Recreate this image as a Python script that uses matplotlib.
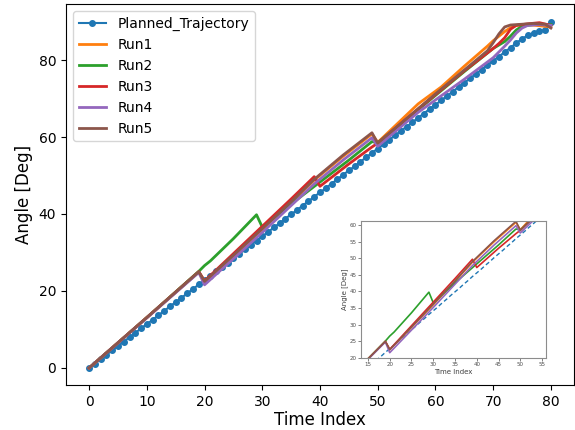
import matplotlib
matplotlib.use("Agg")
import matplotlib.pyplot as plt

# ---------------- data ----------------
planned_t = list(range(0, 81))
planned_v = [0.0, 1.1, 2.3, 3.4, 4.6, 5.7, 6.8, 8.0, 9.1, 10.3,
             11.4, 12.5, 13.7, 14.8, 16.0, 17.1, 18.2, 19.4, 20.5, 21.7,
             22.8, 23.9, 25.1, 26.2, 27.4, 28.5, 29.6, 30.8, 31.9, 33.1,
             34.2, 35.3, 36.5, 37.6, 38.8, 39.9, 41.0, 42.2, 43.3, 44.5,
             45.6, 46.7, 47.9, 49.0, 50.2, 51.3, 52.4, 53.6, 54.7, 55.9,
             57.0, 58.1, 59.3, 60.4, 61.6, 62.7, 63.8, 65.0, 66.1, 67.3,
             68.4, 69.5, 70.7, 71.8, 73.0, 74.1, 75.2, 76.4, 77.5, 78.7,
             79.8, 80.9, 82.1, 83.2, 84.4, 85.5, 86.4, 87.1, 87.5, 87.8,
             90.0]

run1_t = [0, 10, 19, 20, 25, 30, 35, 39, 44, 49, 50, 57, 61, 65, 69, 70, 71, 72, 73, 74, 76, 80]
run1_v = [0, 13.1, 25.0, 22.5, 29.2, 36.0, 43.0, 48.8, 55.0, 60.8, 58.6, 68.6, 73.0, 78.4, 83.6, 85.0, 86.2, 87.4, 88.4, 89.0, 89.2, 88.6]

run2_t = [0, 10, 19, 20, 21, 25, 29, 30, 35, 40, 45, 49, 50, 55, 60, 65, 70, 72, 73, 74, 75, 77, 80]
run2_v = [0, 13.1, 25.1, 26.6, 27.8, 33.6, 39.8, 36.6, 42.6, 48.3, 54.0, 58.8, 58.5, 64.6, 70.8, 77.0, 83.0, 84.8, 86.2, 87.8, 88.8, 89.2, 89.2]

run3_t = [0, 10, 19, 20, 25, 30, 35, 39, 40, 45, 49, 50, 55, 60, 65, 70, 71, 72, 73, 74, 76, 78, 80]
run3_v = [0, 13.1, 25.0, 22.6, 29.7, 36.8, 43.9, 49.7, 47.2, 53.0, 57.4, 58.4, 64.8, 71.0, 77.2, 83.0, 84.3, 85.8, 88.0, 89.0, 89.4, 89.7, 89.0]

run4_t = [0, 10, 19, 20, 25, 30, 35, 39, 44, 49, 50, 57, 65, 70, 72, 73, 74, 75, 76, 78, 80]
run4_v = [0, 13.0, 24.8, 21.6, 28.4, 35.2, 42.2, 47.8, 54.0, 59.8, 57.6, 66.4, 75.0, 80.6, 83.6, 85.2, 87.0, 88.3, 89.0, 89.2, 89.0]

run5_t = [0, 10, 19, 20, 25, 30, 35, 39, 44, 49, 50, 55, 60, 65, 69, 70, 71, 72, 73, 75, 77, 79, 80]
run5_v = [0, 13.1, 25.0, 22.5, 29.3, 36.2, 43.2, 49.0, 55.3, 61.1, 58.4, 64.8, 71.2, 77.4, 82.4, 84.5, 86.8, 88.6, 89.1, 89.3, 89.5, 89.3, 88.3]

run_names = ["Run1", "Run2", "Run3", "Run4", "Run5"]
runs_t = [run1_t, run2_t, run3_t, run4_t, run5_t]
runs_v = [run1_v, run2_v, run3_v, run4_v, run5_v]
run_colors = ["tab:orange", "tab:green", "tab:red", "tab:purple", "tab:brown"]

# ---------------- figure ----------------
fig = plt.figure(figsize=(5.75, 4.3), dpi=100)
ax = fig.add_axes([66/575, 1 - 385.3/430, (574-66)/575, (385.3-4.2)/430])

ax.plot(planned_t, planned_v, color="tab:blue", marker="o", markersize=4,
        linewidth=1.5, label="Planned_Trajectory")
for name, t, v, c in zip(run_names, runs_t, runs_v, run_colors):
    ax.plot(t, v, color=c, linewidth=2, label=name)

ax.set_xlim(-4, 84)
ax.set_ylim(-4.5, 94.5)
ax.set_xticks([0, 10, 20, 30, 40, 50, 60, 70, 80])
ax.set_yticks([0, 20, 40, 60, 80])
ax.tick_params(labelsize=10)
ax.set_xlabel("Time Index", fontsize=12, labelpad=1.5)
ax.set_ylabel("Angle [Deg]", fontsize=12)
ax.legend(loc="upper left", fontsize=10)

# ---------------- inset ----------------
ins = fig.add_axes([361/575, 1 - 358/430, 185/575, 137/430])
ins.plot(planned_t, planned_v, color="tab:blue", linestyle="--",
         dashes=(3, 2), linewidth=1.0)
for t, v, c in zip(runs_t, runs_v, run_colors):
    ins.plot(t, v, color=c, linewidth=1.2)
ins.set_xlim(13.4, 55.9)
ins.set_ylim(20, 61.2)
ins.set_xticks([15, 20, 25, 30, 35, 40, 45, 50, 55])
ins.set_yticks([20, 25, 30, 35, 40, 45, 50, 55, 60])
ins.tick_params(labelsize=4, length=2, width=0.5, pad=1, colors="0.3")
for s in ins.spines.values():
    s.set_color("0.55")
    s.set_linewidth(0.8)
ins.set_xlabel("Time Index", fontsize=5, labelpad=1, color="0.25")
ins.set_ylabel("Angle [Deg]", fontsize=5, labelpad=1, color="0.25")

fig.savefig("out.png", dpi=100)
